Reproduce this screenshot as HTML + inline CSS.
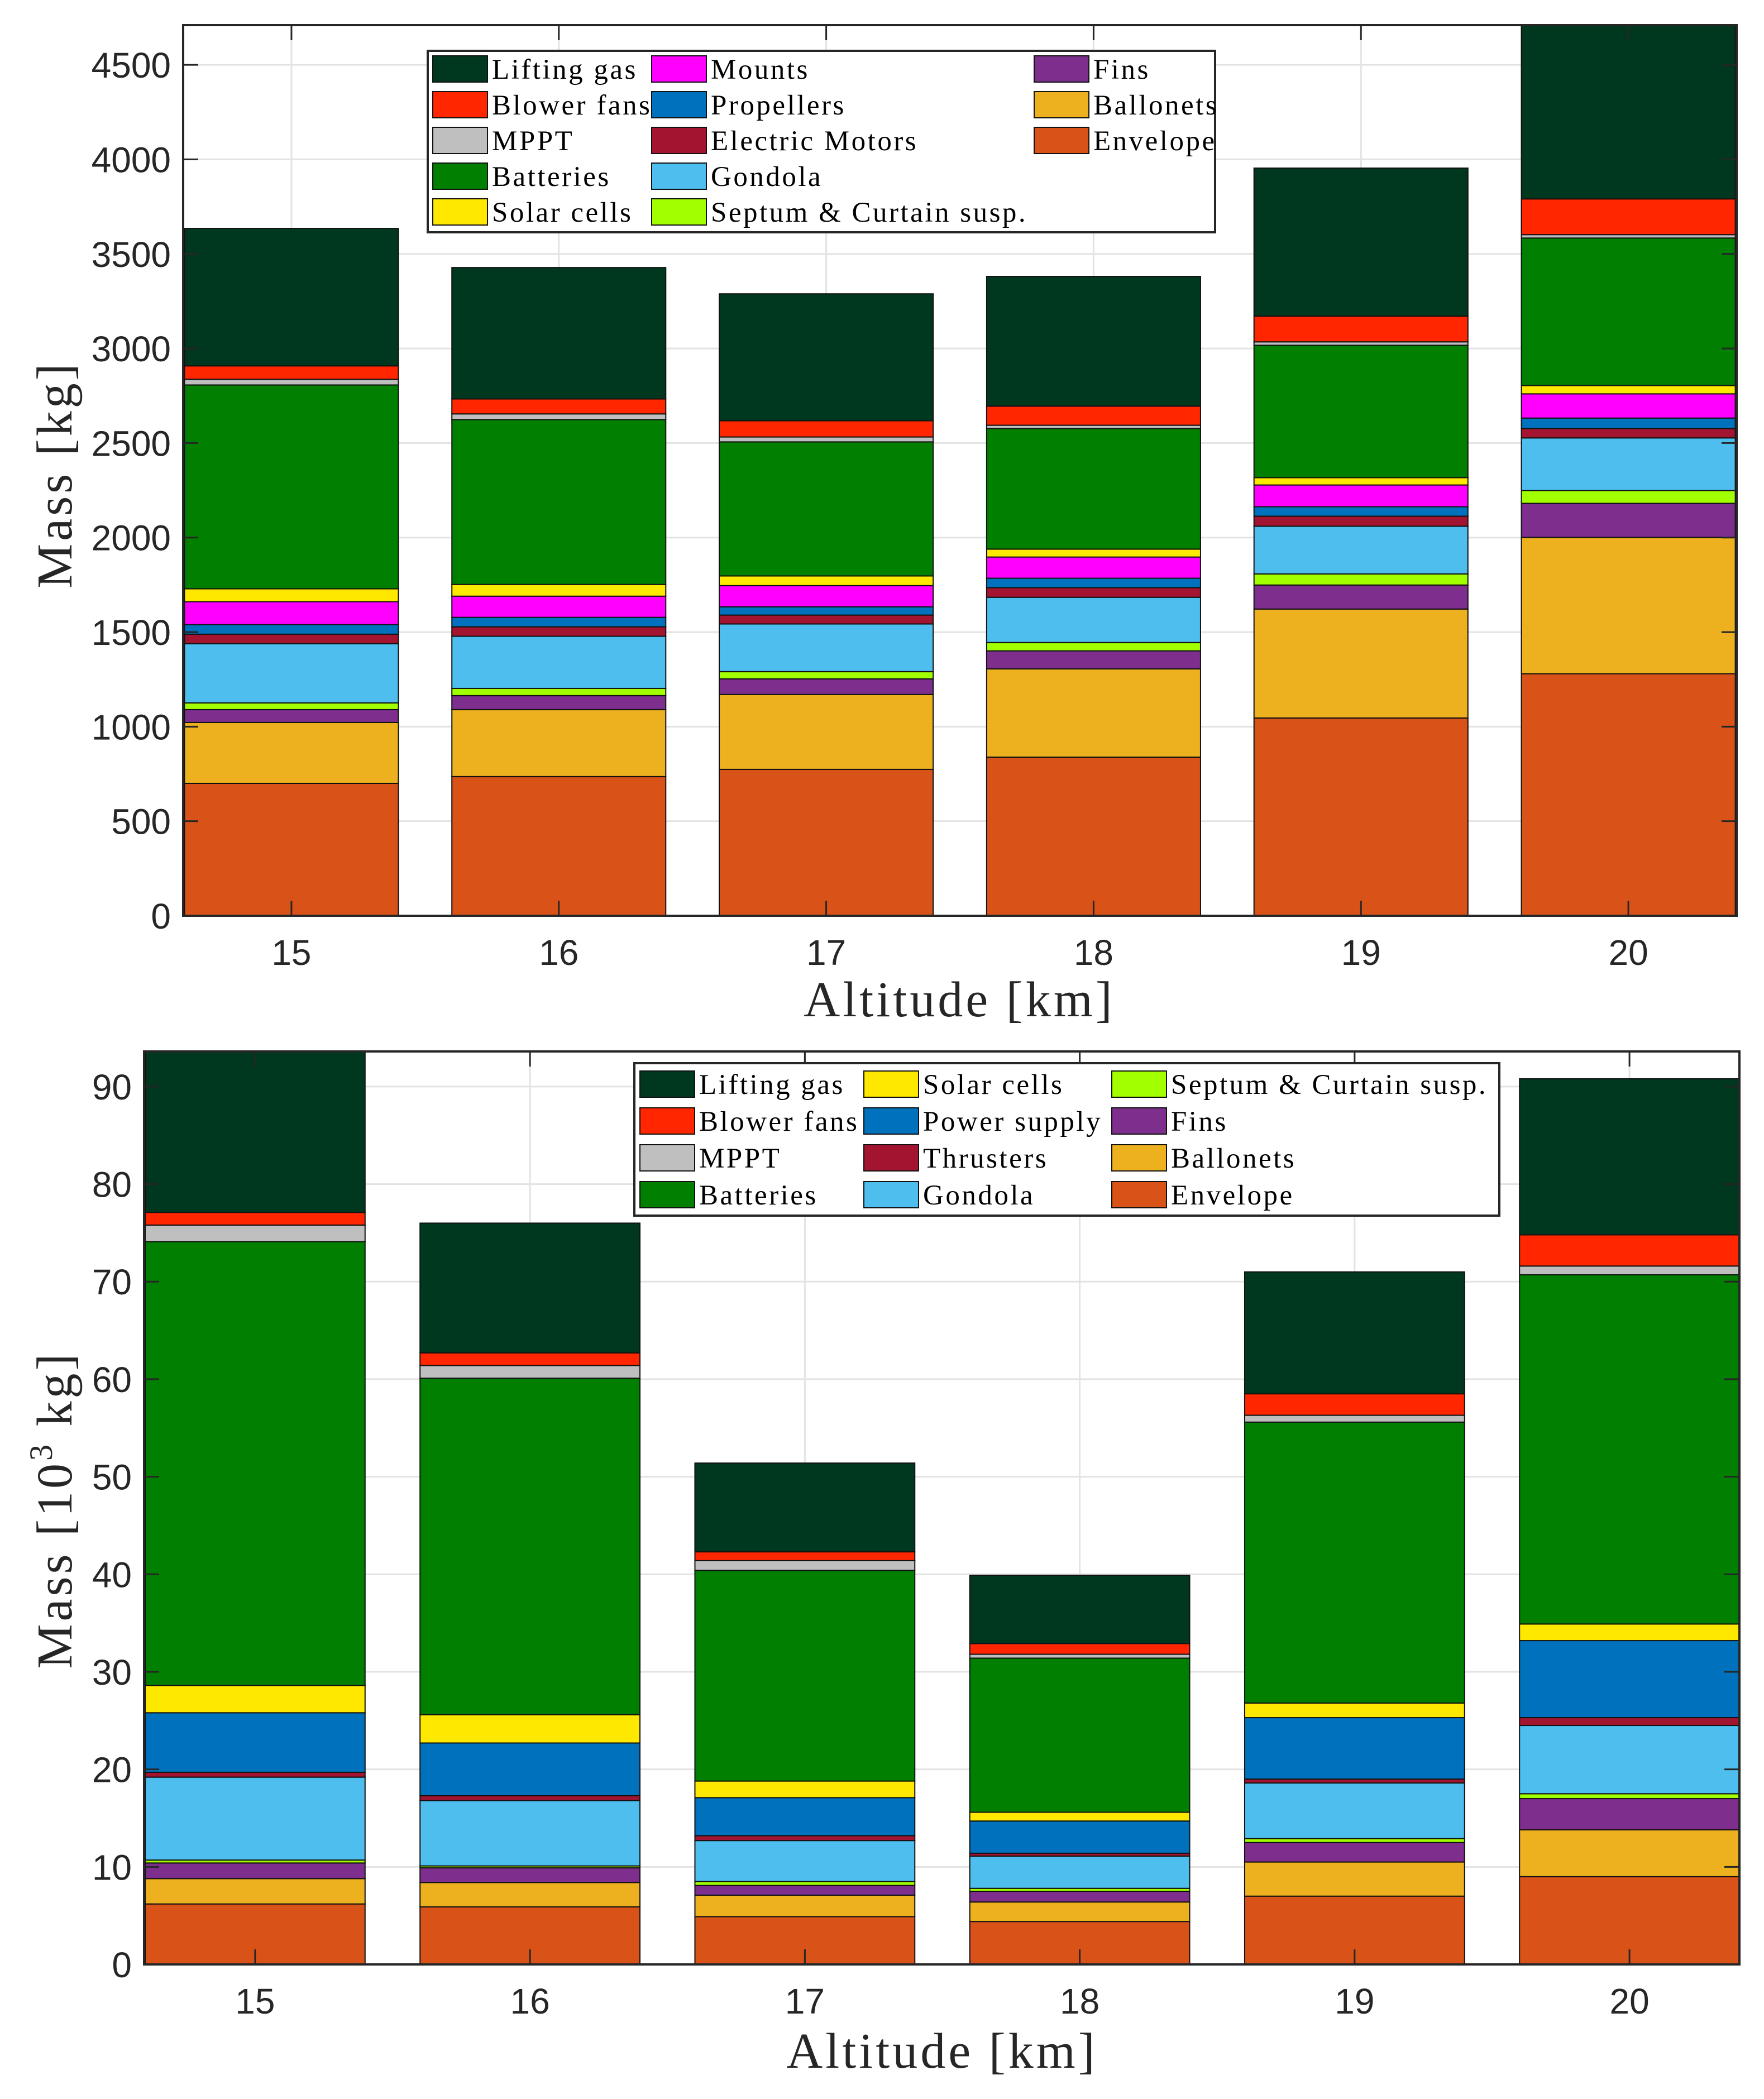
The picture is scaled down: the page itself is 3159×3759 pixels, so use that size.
<!DOCTYPE html>
<html><head><meta charset="utf-8"><style>
html,body{margin:0;padding:0;background:#fff}
svg{display:block}
</style></head><body>
<svg id="chart" xmlns="http://www.w3.org/2000/svg" width="3159" height="3759" viewBox="0 0 3159 3759">
<rect width="3159" height="3759" fill="#fff"/>
<defs>
<clipPath id="clipTop"><rect x="328" y="45" width="2782" height="1595"/></clipPath>
<clipPath id="clipBot"><rect x="258" y="1883" width="2857" height="1635"/></clipPath>
</defs>
<g id="top"></g>
<g id="bot"></g>
</svg>
<script>
const categories = [15, 16, 17, 18, 19, 20];
// Top chart series (kg), bottom to top
const topEnvelope   = [700, 736, 774, 839, 1046, 1280];
const topBallonets  = [322, 354, 396, 467, 576, 721];
const topFins       = [68, 74, 83, 95, 127, 180];
const topSeptum     = [36, 38, 38, 44, 59, 68];
const topGondola    = [313, 276, 252, 239, 252, 278];
const topMotors     = [50, 50, 47, 51, 53, 50];
const topPropellers = [51, 50, 44, 50, 50, 55];
const topMounts     = [121, 112, 112, 112, 115, 128];
const topSolar      = [68, 62, 51, 42, 39, 44];
const topBatteries  = [1078, 872, 709, 638, 700, 780];
const topMPPT       = [30, 30, 26, 17, 18, 18];
const topBlower     = [71, 79, 86, 101, 136, 189];
const topLifting    = [727, 695, 671, 686, 783, 950];
const topTicks = [0, 500, 1000, 1500, 2000, 2500, 3000, 3500, 4000, 4500];
// Bottom chart series (10^3 kg), bottom to top
const botEnvelope  = [6.2, 5.9, 4.9, 4.4, 7.0, 9.0];
const botBallonets = [2.6, 2.5, 2.2, 2.0, 3.5, 4.8];
const botFins      = [1.6, 1.5, 1.0, 1.1, 2.0, 3.2];
const botSeptum    = [0.3, 0.2, 0.4, 0.3, 0.4, 0.5];
const botGondola   = [8.5, 6.7, 4.2, 3.3, 5.7, 7.0];
const botThrusters = [0.5, 0.5, 0.5, 0.3, 0.4, 0.8];
const botPower     = [6.1, 5.4, 3.9, 3.3, 6.3, 7.9];
const botSolar     = [2.8, 2.9, 1.7, 0.9, 1.5, 1.7];
const botBatteries = [45.5, 34.5, 21.6, 15.8, 28.8, 35.8];
const botMPPT      = [1.7, 1.3, 1.0, 0.4, 0.7, 0.9];
const botBlower    = [1.3, 1.3, 0.9, 1.1, 2.2, 3.2];
const botLifting   = [19.0, 13.3, 9.1, 7.0, 12.5, 16.0];
const botTicks = [0, 10, 20, 30, 40, 50, 60, 70, 80, 90];

const C = {env:'#D95319', ball:'#EDB120', fins:'#7E2F8E', sept:'#A2FF00', gond:'#4DBEEE', mot:'#A2142F',
  prop:'#0072BD', mount:'#FF00FF', solar:'#FFE800', batt:'#007F00', mppt:'#BFBFBF', blow:'#FF2600', lift:'#00381F'};
const NS = 'http://www.w3.org/2000/svg';
function mk(tag, attrs, parent){const e=document.createElementNS(NS,tag);for(const k in attrs)e.setAttribute(k,attrs[k]);parent.appendChild(e);return e;}

function drawChart(g, cfg){
  const {L,R,T,B,xmin,xmax,ymax,ticks,series,clip} = cfg;
  const xs = v => L + (v - xmin) / (xmax - xmin) * (R - L);
  const ys = v => B - v / ymax * (B - T);
  ticks.forEach(t=>{const y=ys(t);const l=mk('line',{x1:L,x2:R,y1:y,y2:y,stroke:'#e3e3e3','stroke-width':3},g);
    
    });
  categories.forEach(c=>{const x=xs(c);const l=mk('line',{x1:x,x2:x,y1:T,y2:B,stroke:'#e3e3e3','stroke-width':3},g);
    
    });
  const bg = mk('g',{'clip-path':'url(#'+clip+')'},g);
  categories.forEach((c,i)=>{
    let base=0;
    series.forEach(s=>{
      const v=s.data[i];const y0=ys(base),y1=ys(base+v);
      const r=mk('rect',{x:xs(c-0.4),y:y1,width:xs(c+0.4)-xs(c-0.4),height:y0-y1,fill:s.color,stroke:'#111','stroke-width':2},bg);
      
      
      base+=v;
    });
  });
  ticks.forEach(t=>{const y=ys(t);
    mk('line',{x1:L,x2:L+27,y1:y,y2:y,stroke:'#262626','stroke-width':3},g);
    mk('line',{x1:R,x2:R-27,y1:y,y2:y,stroke:'#262626','stroke-width':3},g);
    const tx=mk('text',{x:L-22,y:y+23,'text-anchor':'end','font-family':'Liberation Sans, sans-serif','font-size':64,fill:'#262626'},g);
    tx.textContent=t;
    
    
  });
  categories.forEach(c=>{const x=xs(c);
    mk('line',{x1:x,x2:x,y1:B,y2:B-27,stroke:'#262626','stroke-width':3},g);
    mk('line',{x1:x,x2:x,y1:T,y2:T+27,stroke:'#262626','stroke-width':3},g);
    const tx=mk('text',{x:x,y:B+88,'text-anchor':'middle','font-family':'Liberation Sans, sans-serif','font-size':64,fill:'#262626'},g);
    tx.textContent=c;
    
    
  });
  const box=mk('rect',{x:L,y:T,width:R-L,height:B-T,fill:'none',stroke:'#262626','stroke-width':4},g);
  
  
}

function drawLegend(g, box, items){
  const lb=mk('rect',{x:box.x,y:box.y,width:box.w,height:box.h,fill:'#fff',stroke:'#262626','stroke-width':4},g);
  
  
  items.forEach(it=>{
    const s=mk('rect',{x:it.x,y:it.y-24,width:98,height:47,fill:it.color,stroke:'#111','stroke-width':2},g);
    
    
    const t=mk('text',{x:it.x+106,y:it.y+17,'font-family':'Liberation Serif, serif','font-size':51,'letter-spacing':3.5,fill:'#000'},g);
    t.textContent=it.label;
    
    
  });
}
function label(g,txt,x,y,rot,name){
  const t=mk('text',{x:x,y:y,'text-anchor':'middle','font-family':'Liberation Serif, serif','font-size':90,'letter-spacing':5,fill:'#262626'},g);
  if(rot)t.setAttribute('transform','rotate(-90 '+x+' '+y+')');
  t.innerHTML=txt;
  
  
}

const gt=document.getElementById('top');
drawChart(gt,{L:328,R:3110,T:45,B:1640,xmin:14.595,xmax:20.405,ymax:4710,ticks:topTicks,clip:'clipTop',series:[
 {key:'envelope',color:C.env,data:topEnvelope},{key:'ballonets',color:C.ball,data:topBallonets},
 {key:'fins',color:C.fins,data:topFins},{key:'septum',color:C.sept,data:topSeptum},
 {key:'gondola',color:C.gond,data:topGondola},{key:'motors',color:C.mot,data:topMotors},
 {key:'propellers',color:C.prop,data:topPropellers},{key:'mounts',color:C.mount,data:topMounts},
 {key:'solar',color:C.solar,data:topSolar},{key:'batteries',color:C.batt,data:topBatteries},
 {key:'mppt',color:C.mppt,data:topMPPT},{key:'blower',color:C.blow,data:topBlower},
 {key:'lifting',color:C.lift,data:topLifting}]});
const tc=[775,1167,1852], tr=[124,188,252,316,380];
drawLegend(gt,{x:766,y:91,w:1410,h:325},[
 {x:tc[0],y:tr[0],color:C.lift,label:'Lifting gas'},{x:tc[0],y:tr[1],color:C.blow,label:'Blower fans'},
 {x:tc[0],y:tr[2],color:C.mppt,label:'MPPT'},{x:tc[0],y:tr[3],color:C.batt,label:'Batteries'},
 {x:tc[0],y:tr[4],color:C.solar,label:'Solar cells'},
 {x:tc[1],y:tr[0],color:C.mount,label:'Mounts'},{x:tc[1],y:tr[1],color:C.prop,label:'Propellers'},
 {x:tc[1],y:tr[2],color:C.mot,label:'Electric Motors'},{x:tc[1],y:tr[3],color:C.gond,label:'Gondola'},
 {x:tc[1],y:tr[4],color:C.sept,label:'Septum & Curtain susp.'},
 {x:tc[2],y:tr[0],color:C.fins,label:'Fins'},{x:tc[2],y:tr[1],color:C.ball,label:'Ballonets'},
 {x:tc[2],y:tr[2],color:C.env,label:'Envelope'}]);
label(gt,'Altitude [km]',1718,1820,false,'x-axis-title');
label(gt,'Mass [kg]',128,850,true,'y-axis-title');

const gb=document.getElementById('bot');
drawChart(gb,{L:258,R:3115,T:1883,B:3518,xmin:14.596,xmax:20.4,ymax:93.6,ticks:botTicks,clip:'clipBot',series:[
 {key:'envelope',color:C.env,data:botEnvelope},{key:'ballonets',color:C.ball,data:botBallonets},
 {key:'fins',color:C.fins,data:botFins},{key:'septum',color:C.sept,data:botSeptum},
 {key:'gondola',color:C.gond,data:botGondola},{key:'thrusters',color:C.mot,data:botThrusters},
 {key:'power',color:C.prop,data:botPower},{key:'solar',color:C.solar,data:botSolar},
 {key:'batteries',color:C.batt,data:botBatteries},{key:'mppt',color:C.mppt,data:botMPPT},
 {key:'blower',color:C.blow,data:botBlower},{key:'lifting',color:C.lift,data:botLifting}]});
const bc=[1146,1547,1991], br=[1942,2008,2074,2140];
drawLegend(gb,{x:1136,y:1904,w:1549,h:273},[
 {x:bc[0],y:br[0],color:C.lift,label:'Lifting gas'},{x:bc[0],y:br[1],color:C.blow,label:'Blower fans'},
 {x:bc[0],y:br[2],color:C.mppt,label:'MPPT'},{x:bc[0],y:br[3],color:C.batt,label:'Batteries'},
 {x:bc[1],y:br[0],color:C.solar,label:'Solar cells'},{x:bc[1],y:br[1],color:C.prop,label:'Power supply'},
 {x:bc[1],y:br[2],color:C.mot,label:'Thrusters'},{x:bc[1],y:br[3],color:C.gond,label:'Gondola'},
 {x:bc[2],y:br[0],color:C.sept,label:'Septum & Curtain susp.'},{x:bc[2],y:br[1],color:C.fins,label:'Fins'},
 {x:bc[2],y:br[2],color:C.ball,label:'Ballonets'},{x:bc[2],y:br[3],color:C.env,label:'Envelope'}]);
label(gb,'Altitude [km]',1687,3703,false,'x-axis-title');
label(gb,'Mass [10<tspan dy="-35" font-size="58">3</tspan><tspan dy="35"> kg]</tspan>',128,2704,true,'y-axis-title');
</script>
</body></html>
